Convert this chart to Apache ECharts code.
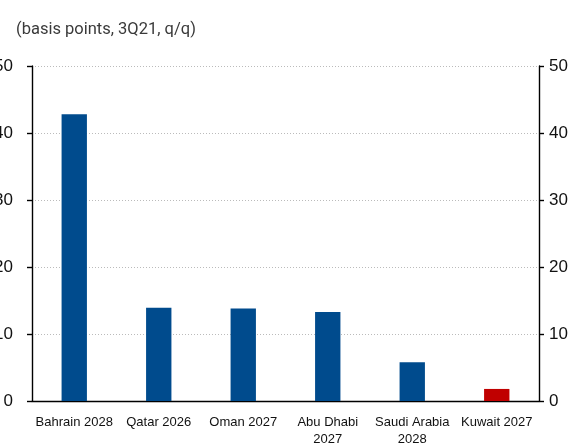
<!DOCTYPE html>
<html><head><meta charset="utf-8">
<script src="https://cdn.jsdelivr.net/npm/echarts@6/dist/echarts.min.js"></script>
<style>html,body{margin:0;padding:0;background:#fff}#c{width:579px;height:443px}</style>
</head><body><div id="c"></div>
<script>
const categories = ["Bahrain 2028", "Qatar 2026", "Oman 2027", "Abu Dhabi\n2027", "Saudi Arabia\n2028", "Kuwait 2027"];
const values = [42.8, 13.9, 13.8, 13.3, 5.8, 1.8];
const barColors = ["#004b8d", "#004b8d", "#004b8d", "#004b8d", "#004b8d", "#c00000"];
const subtitle = "(basis points, 3Q21, q/q)";
const yMin = 0, yMax = 50, yStep = 10;

const chart = echarts.init(document.getElementById('c'), null, {renderer: 'canvas'});
const yAxisBase = {
  type: 'value', min: yMin, max: yMax, interval: yStep,
  axisLine: {show: true, lineStyle: {color: '#000', width: 1.4}},
  axisTick: {show: true, inside: false, length: 5, lineStyle: {color: '#000', width: 1.4}},
  axisLabel: {color: '#111', fontFamily: 'Liberation Sans', fontSize: 17}
};
chart.setOption({
  animation: false,
  title: {text: subtitle, left: 11, top: 16, textStyle: {color: '#3a3a3a', fontFamily: 'Roboto', fontWeight: 'normal', fontSize: 16.5}},
  grid: {left: 32, right: 40, top: 66, bottom: 42, containLabel: false, outerBoundsMode: 'none'},
  xAxis: {
    type: 'category', data: categories,
    axisLine: {show: true, lineStyle: {color: '#000', width: 1.4}},
    axisTick: {show: false},
    axisLabel: {color: '#111', fontFamily: 'Liberation Sans', fontSize: 13, margin: 13, interval: 0, lineHeight: 17}
  },
  yAxis: [
    Object.assign({}, yAxisBase, {position: 'left', axisLabel: Object.assign({}, yAxisBase.axisLabel, {margin: 19}),
      splitLine: {show: true, lineStyle: {color: '#bbb', type: [1, 2], width: 1}}}),
    Object.assign({}, yAxisBase, {position: 'right', axisLabel: Object.assign({}, yAxisBase.axisLabel, {margin: 10}),
      splitLine: {show: false}})
  ],
  series: [{
    type: 'bar', yAxisIndex: 0, barWidth: '30%',
    data: values.map((v, i) => ({value: v, itemStyle: {color: barColors[i]}}))
  }]
});
</script></body></html>
